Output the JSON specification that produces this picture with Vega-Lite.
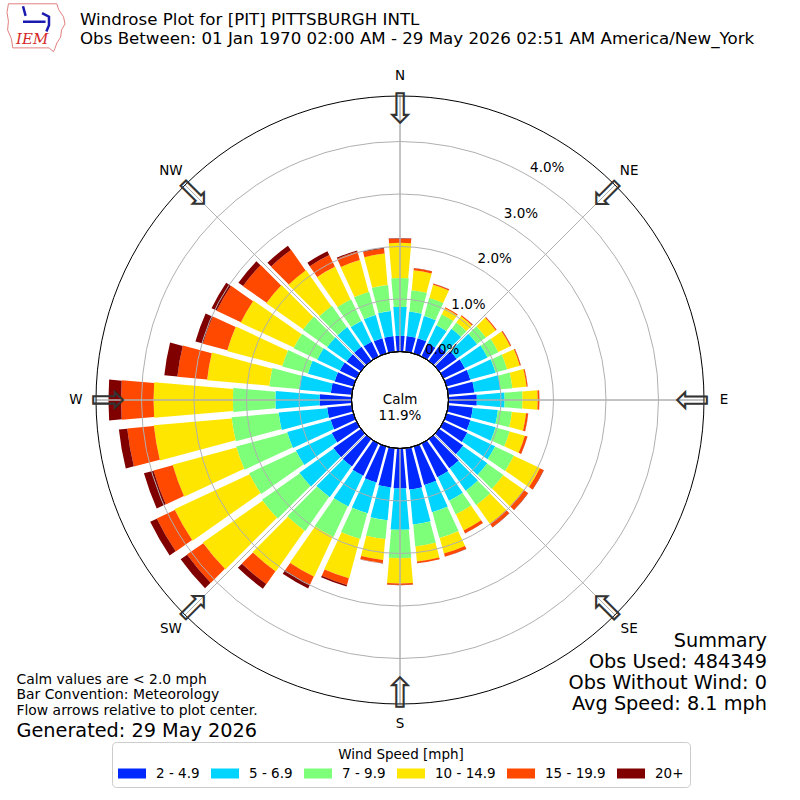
{
  "$schema": "https://vega.github.io/schema/vega-lite/v6.json",
  "width": 800,
  "height": 800,
  "padding": 0,
  "autosize": {"type": "none"},
  "background": "white",
  "config": {"view": {"stroke": null}, "font": "DejaVu Sans", "text": {"font": "DejaVu Sans", "color": "black"}},
  "datasets": {
    "rose": [
      {"dir":0,"speed":"2 - 4.9","pct":0.30},{"dir":0,"speed":"5 - 6.9","pct":0.55},{"dir":0,"speed":"7 - 9.9","pct":0.55},{"dir":0,"speed":"10 - 14.9","pct":0.67},{"dir":0,"speed":"15 - 19.9","pct":0.08},{"dir":0,"speed":"20+","pct":0.01},
      {"dir":10,"speed":"2 - 4.9","pct":0.30},{"dir":10,"speed":"5 - 6.9","pct":0.47},{"dir":10,"speed":"7 - 9.9","pct":0.41},{"dir":10,"speed":"10 - 14.9","pct":0.38},{"dir":10,"speed":"15 - 19.9","pct":0.04},{"dir":10,"speed":"20+","pct":0.005},
      {"dir":20,"speed":"2 - 4.9","pct":0.30},{"dir":20,"speed":"5 - 6.9","pct":0.44},{"dir":20,"speed":"7 - 9.9","pct":0.36},{"dir":20,"speed":"10 - 14.9","pct":0.26},{"dir":20,"speed":"15 - 19.9","pct":0.02},{"dir":20,"speed":"20+","pct":0.003},
      {"dir":30,"speed":"2 - 4.9","pct":0.28},{"dir":30,"speed":"5 - 6.9","pct":0.38},{"dir":30,"speed":"7 - 9.9","pct":0.23},{"dir":30,"speed":"10 - 14.9","pct":0.13},{"dir":30,"speed":"15 - 19.9","pct":0.02},{"dir":30,"speed":"20+","pct":0.003},
      {"dir":40,"speed":"2 - 4.9","pct":0.33},{"dir":40,"speed":"5 - 6.9","pct":0.42},{"dir":40,"speed":"7 - 9.9","pct":0.15},{"dir":40,"speed":"10 - 14.9","pct":0.15},{"dir":40,"speed":"15 - 19.9","pct":0.02},{"dir":40,"speed":"20+","pct":0.003},
      {"dir":50,"speed":"2 - 4.9","pct":0.41},{"dir":50,"speed":"5 - 6.9","pct":0.48},{"dir":50,"speed":"7 - 9.9","pct":0.21},{"dir":50,"speed":"10 - 14.9","pct":0.23},{"dir":50,"speed":"15 - 19.9","pct":0.02},{"dir":50,"speed":"20+","pct":0.003},
      {"dir":60,"speed":"2 - 4.9","pct":0.45},{"dir":60,"speed":"5 - 6.9","pct":0.48},{"dir":60,"speed":"7 - 9.9","pct":0.23},{"dir":60,"speed":"10 - 14.9","pct":0.25},{"dir":60,"speed":"15 - 19.9","pct":0.02},{"dir":60,"speed":"20+","pct":0.003},
      {"dir":70,"speed":"2 - 4.9","pct":0.47},{"dir":70,"speed":"5 - 6.9","pct":0.50},{"dir":70,"speed":"7 - 9.9","pct":0.23},{"dir":70,"speed":"10 - 14.9","pct":0.25},{"dir":70,"speed":"15 - 19.9","pct":0.02},{"dir":70,"speed":"20+","pct":0.003},
      {"dir":80,"speed":"2 - 4.9","pct":0.50},{"dir":80,"speed":"5 - 6.9","pct":0.50},{"dir":80,"speed":"7 - 9.9","pct":0.23},{"dir":80,"speed":"10 - 14.9","pct":0.27},{"dir":80,"speed":"15 - 19.9","pct":0.02},{"dir":80,"speed":"20+","pct":0.003},
      {"dir":90,"speed":"2 - 4.9","pct":0.54},{"dir":90,"speed":"5 - 6.9","pct":0.53},{"dir":90,"speed":"7 - 9.9","pct":0.34},{"dir":90,"speed":"10 - 14.9","pct":0.29},{"dir":90,"speed":"15 - 19.9","pct":0.03},{"dir":90,"speed":"20+","pct":0.003},
      {"dir":100,"speed":"2 - 4.9","pct":0.47},{"dir":100,"speed":"5 - 6.9","pct":0.48},{"dir":100,"speed":"7 - 9.9","pct":0.27},{"dir":100,"speed":"10 - 14.9","pct":0.27},{"dir":100,"speed":"15 - 19.9","pct":0.04},{"dir":100,"speed":"20+","pct":0.003},
      {"dir":110,"speed":"2 - 4.9","pct":0.47},{"dir":110,"speed":"5 - 6.9","pct":0.50},{"dir":110,"speed":"7 - 9.9","pct":0.28},{"dir":110,"speed":"10 - 14.9","pct":0.30},{"dir":110,"speed":"15 - 19.9","pct":0.05},{"dir":110,"speed":"20+","pct":0.003},
      {"dir":120,"speed":"2 - 4.9","pct":0.50},{"dir":120,"speed":"5 - 6.9","pct":0.59},{"dir":120,"speed":"7 - 9.9","pct":0.40},{"dir":120,"speed":"10 - 14.9","pct":0.55},{"dir":120,"speed":"15 - 19.9","pct":0.08},{"dir":120,"speed":"20+","pct":0.006},
      {"dir":130,"speed":"2 - 4.9","pct":0.56},{"dir":130,"speed":"5 - 6.9","pct":0.57},{"dir":130,"speed":"7 - 9.9","pct":0.38},{"dir":130,"speed":"10 - 14.9","pct":0.48},{"dir":130,"speed":"15 - 19.9","pct":0.10},{"dir":130,"speed":"20+","pct":0.006},
      {"dir":140,"speed":"2 - 4.9","pct":0.68},{"dir":140,"speed":"5 - 6.9","pct":0.53},{"dir":140,"speed":"7 - 9.9","pct":0.34},{"dir":140,"speed":"10 - 14.9","pct":0.44},{"dir":140,"speed":"15 - 19.9","pct":0.08},{"dir":140,"speed":"20+","pct":0.006},
      {"dir":150,"speed":"2 - 4.9","pct":0.71},{"dir":150,"speed":"5 - 6.9","pct":0.50},{"dir":150,"speed":"7 - 9.9","pct":0.29},{"dir":150,"speed":"10 - 14.9","pct":0.34},{"dir":150,"speed":"15 - 19.9","pct":0.06},{"dir":150,"speed":"20+","pct":0.004},
      {"dir":160,"speed":"2 - 4.9","pct":0.76},{"dir":160,"speed":"5 - 6.9","pct":0.54},{"dir":160,"speed":"7 - 9.9","pct":0.51},{"dir":160,"speed":"10 - 14.9","pct":0.31},{"dir":160,"speed":"15 - 19.9","pct":0.06},{"dir":160,"speed":"20+","pct":0.004},
      {"dir":170,"speed":"2 - 4.9","pct":0.79},{"dir":170,"speed":"5 - 6.9","pct":0.67},{"dir":170,"speed":"7 - 9.9","pct":0.42},{"dir":170,"speed":"10 - 14.9","pct":0.29},{"dir":170,"speed":"15 - 19.9","pct":0.03},{"dir":170,"speed":"20+","pct":0.004},
      {"dir":180,"speed":"2 - 4.9","pct":0.76},{"dir":180,"speed":"5 - 6.9","pct":0.79},{"dir":180,"speed":"7 - 9.9","pct":0.54},{"dir":180,"speed":"10 - 14.9","pct":0.48},{"dir":180,"speed":"15 - 19.9","pct":0.03},{"dir":180,"speed":"20+","pct":0.004},
      {"dir":190,"speed":"2 - 4.9","pct":0.75},{"dir":190,"speed":"5 - 6.9","pct":0.63},{"dir":190,"speed":"7 - 9.9","pct":0.36},{"dir":190,"speed":"10 - 14.9","pct":0.40},{"dir":190,"speed":"15 - 19.9","pct":0.06},{"dir":190,"speed":"20+","pct":0.006},
      {"dir":200,"speed":"2 - 4.9","pct":0.71},{"dir":200,"speed":"5 - 6.9","pct":0.61},{"dir":200,"speed":"7 - 9.9","pct":0.51},{"dir":200,"speed":"10 - 14.9","pct":0.78},{"dir":200,"speed":"15 - 19.9","pct":0.13},{"dir":200,"speed":"20+","pct":0.03},
      {"dir":210,"speed":"2 - 4.9","pct":0.68},{"dir":210,"speed":"5 - 6.9","pct":0.65},{"dir":210,"speed":"7 - 9.9","pct":0.65},{"dir":210,"speed":"10 - 14.9","pct":0.84},{"dir":210,"speed":"15 - 19.9","pct":0.17},{"dir":210,"speed":"20+","pct":0.08},
      {"dir":220,"speed":"2 - 4.9","pct":0.64},{"dir":220,"speed":"5 - 6.9","pct":0.72},{"dir":220,"speed":"7 - 9.9","pct":0.80},{"dir":220,"speed":"10 - 14.9","pct":0.95},{"dir":220,"speed":"15 - 19.9","pct":0.30},{"dir":220,"speed":"20+","pct":0.11},
      {"dir":230,"speed":"2 - 4.9","pct":0.64},{"dir":230,"speed":"5 - 6.9","pct":0.80},{"dir":230,"speed":"7 - 9.9","pct":0.88},{"dir":230,"speed":"10 - 14.9","pct":1.39},{"dir":230,"speed":"15 - 19.9","pct":0.38},{"dir":230,"speed":"20+","pct":0.15},
      {"dir":240,"speed":"2 - 4.9","pct":0.52},{"dir":240,"speed":"5 - 6.9","pct":0.76},{"dir":240,"speed":"7 - 9.9","pct":0.99},{"dir":240,"speed":"10 - 14.9","pct":1.58},{"dir":240,"speed":"15 - 19.9","pct":0.38},{"dir":240,"speed":"20+","pct":0.14},
      {"dir":250,"speed":"2 - 4.9","pct":0.45},{"dir":250,"speed":"5 - 6.9","pct":0.86},{"dir":250,"speed":"7 - 9.9","pct":1.01},{"dir":250,"speed":"10 - 14.9","pct":1.26},{"dir":250,"speed":"15 - 19.9","pct":0.38},{"dir":250,"speed":"20+","pct":0.19},
      {"dir":260,"speed":"2 - 4.9","pct":0.47},{"dir":260,"speed":"5 - 6.9","pct":0.93},{"dir":260,"speed":"7 - 9.9","pct":0.90},{"dir":260,"speed":"10 - 14.9","pct":1.49},{"dir":260,"speed":"15 - 19.9","pct":0.51},{"dir":260,"speed":"20+","pct":0.16},
      {"dir":270,"speed":"2 - 4.9","pct":0.61},{"dir":270,"speed":"5 - 6.9","pct":0.84},{"dir":270,"speed":"7 - 9.9","pct":0.81},{"dir":270,"speed":"10 - 14.9","pct":1.51},{"dir":270,"speed":"15 - 19.9","pct":0.62},{"dir":270,"speed":"20+","pct":0.24},
      {"dir":280,"speed":"2 - 4.9","pct":0.40},{"dir":280,"speed":"5 - 6.9","pct":0.61},{"dir":280,"speed":"7 - 9.9","pct":0.57},{"dir":280,"speed":"10 - 14.9","pct":1.19},{"dir":280,"speed":"15 - 19.9","pct":0.57},{"dir":280,"speed":"20+","pct":0.25},
      {"dir":290,"speed":"2 - 4.9","pct":0.37},{"dir":290,"speed":"5 - 6.9","pct":0.53},{"dir":290,"speed":"7 - 9.9","pct":0.51},{"dir":290,"speed":"10 - 14.9","pct":1.09},{"dir":290,"speed":"15 - 19.9","pct":0.48},{"dir":290,"speed":"20+","pct":0.15},
      {"dir":300,"speed":"2 - 4.9","pct":0.35},{"dir":300,"speed":"5 - 6.9","pct":0.48},{"dir":300,"speed":"7 - 9.9","pct":0.50},{"dir":300,"speed":"10 - 14.9","pct":1.12},{"dir":300,"speed":"15 - 19.9","pct":0.51},{"dir":300,"speed":"20+","pct":0.11},
      {"dir":310,"speed":"2 - 4.9","pct":0.33},{"dir":310,"speed":"5 - 6.9","pct":0.46},{"dir":310,"speed":"7 - 9.9","pct":0.57},{"dir":310,"speed":"10 - 14.9","pct":0.86},{"dir":310,"speed":"15 - 19.9","pct":0.55},{"dir":310,"speed":"20+","pct":0.11},
      {"dir":320,"speed":"2 - 4.9","pct":0.33},{"dir":320,"speed":"5 - 6.9","pct":0.46},{"dir":320,"speed":"7 - 9.9","pct":0.50},{"dir":320,"speed":"10 - 14.9","pct":0.84},{"dir":320,"speed":"15 - 19.9","pct":0.48},{"dir":320,"speed":"20+","pct":0.10},
      {"dir":330,"speed":"2 - 4.9","pct":0.31},{"dir":330,"speed":"5 - 6.9","pct":0.44},{"dir":330,"speed":"7 - 9.9","pct":0.46},{"dir":330,"speed":"10 - 14.9","pct":0.69},{"dir":330,"speed":"15 - 19.9","pct":0.25},{"dir":330,"speed":"20+","pct":0.08},
      {"dir":340,"speed":"2 - 4.9","pct":0.30},{"dir":340,"speed":"5 - 6.9","pct":0.46},{"dir":340,"speed":"7 - 9.9","pct":0.46},{"dir":340,"speed":"10 - 14.9","pct":0.63},{"dir":340,"speed":"15 - 19.9","pct":0.17},{"dir":340,"speed":"20+","pct":0.02},
      {"dir":350,"speed":"2 - 4.9","pct":0.30},{"dir":350,"speed":"5 - 6.9","pct":0.48},{"dir":350,"speed":"7 - 9.9","pct":0.50},{"dir":350,"speed":"10 - 14.9","pct":0.60},{"dir":350,"speed":"15 - 19.9","pct":0.10},{"dir":350,"speed":"20+","pct":0.01}
    ],
    "compass": [
      {"lab":"N","a":0},{"lab":"NE","a":45},{"lab":"E","a":90},{"lab":"SE","a":135},
      {"lab":"S","a":180},{"lab":"SW","a":225},{"lab":"W","a":270},{"lab":"NW","a":315}
    ],
    "rings": [
      {"ring":0,"label":"0.0%"},{"ring":1,"label":"1.0%"},{"ring":2,"label":"2.0%"},{"ring":3,"label":"3.0%"},{"ring":4,"label":"4.0%"}
    ]
  },
  "layer": [
    {
      "data": {"name": "rose"},
      "transform": [
        {"stack": "pct", "groupby": ["dir"], "as": ["r0", "r1"]},
        {"bin": {"step": 10, "extent": [-5, 355], "nice": false}, "field": "dir", "as": ["a0", "a1"]}
      ],
      "mark": {"type": "arc", "padAngle": 0.0247},
      "encoding": {
        "theta": {"field": "a0", "type": "quantitative", "stack": null, "scale": {"domain": [0, 360], "range": [0, 6.283185307]}},
        "theta2": {"field": "a1"},
        "radius": {"field": "r1", "type": "quantitative", "stack": null, "scale": {"type": "linear", "domain": [0, 4.8667], "range": [48.5, 304], "zero": false}},
        "radius2": {"field": "r0"},
        "color": {
          "field": "speed", "type": "nominal",
          "scale": {"domain": ["2 - 4.9", "5 - 6.9", "7 - 9.9", "10 - 14.9", "15 - 19.9", "20+"],
                    "range": ["#0028ff", "#00d4ff", "#7dff7a", "#ffe600", "#ff4800", "#800000"]},
          "legend": {
            "orient": "none", "legendX": 112, "legendY": 742, "direction": "horizontal",
            "title": "Wind Speed [mph]", "titleAnchor": "middle", "titleFontSize": 13.5, "titleFontWeight": "normal",
            "titleFont": "DejaVu Sans", "titleColor": "black", "titlePadding": 5,
            "labelFont": "DejaVu Sans", "labelFontSize": 13.5, "labelColor": "black", "labelOffset": 10,
            "symbolType": "M-1,-0.357H1V0.357H-1Z", "symbolSize": 784, "symbolStrokeWidth": 0, "symbolOpacity": 1,
            "clipHeight": 14,
            "columnPadding": 11, "padding": 6, "strokeColor": "#cccccc", "fillColor": "white", "cornerRadius": 4
          }
        }
      }
    },
    {
      "data": {"name": "rings"},
      "transform": [{"filter": "datum.ring > 0"}],
      "mark": {"type": "arc", "fillOpacity": 0, "fill": "white", "stroke": "#b0b0b0", "strokeWidth": 1},
      "encoding": {
        "theta": {"value": 0},
        "theta2": {"value": 6.2832},
        "radius": {"field": "ring", "type": "quantitative", "stack": null, "scale": {"type": "linear", "domain": [0, 4.8667], "range": [48.5, 304], "zero": false}}
      }
    },
    {
      "data": {"name": "compass"},
      "mark": {"type": "arc", "fillOpacity": 0, "fill": "white", "stroke": "#b0b0b0", "strokeWidth": 1},
      "encoding": {
        "theta": {"field": "a", "type": "quantitative", "stack": null, "scale": {"domain": [0, 360], "range": [0, 6.283185307]}},
        "theta2": {"field": "a"},
        "radius": {"datum": 4.8667, "type": "quantitative", "scale": {"type": "linear", "domain": [0, 4.8667], "range": [48.5, 304], "zero": false}},
        "radius2": {"datum": 0}
      }
    },
    {
      "data": {"values": [{"calm": 11.9}]},
      "mark": {"type": "arc", "fill": "white", "stroke": "black", "strokeWidth": 1},
      "encoding": {
        "theta": {"value": 0},
        "theta2": {"value": 6.2832},
        "radius": {"datum": 0, "type": "quantitative", "scale": {"type": "linear", "domain": [0, 4.8667], "range": [48.5, 304], "zero": false}}
      }
    },
    {
      "data": {"values": [{"calm": 11.9}]},
      "mark": {"type": "text", "text": ["Calm", "11.9%"], "fontSize": 13.5, "align": "center", "baseline": "middle", "lineHeight": 16},
      "encoding": {"theta": {"value": 0}, "radius": {"value": 0}}
    },
    {
      "data": {"values": [{"outer": 1}]},
      "mark": {"type": "arc", "fillOpacity": 0, "fill": "white", "stroke": "black", "strokeWidth": 1},
      "encoding": {
        "theta": {"value": 0},
        "theta2": {"value": 6.2832},
        "radius": {"datum": 4.8667, "type": "quantitative", "scale": {"type": "linear", "domain": [0, 4.8667], "range": [48.5, 304], "zero": false}}
      }
    },
    {
      "data": {"name": "rings"},
      "mark": {"type": "text", "fontSize": 13.5, "align": "center", "baseline": "middle", "dx": 18, "dy": -8},
      "encoding": {
        "theta": {"datum": 30, "type": "quantitative", "scale": {"domain": [0, 360], "range": [0, 6.283185307]}},
        "radius": {"field": "ring", "type": "quantitative", "stack": null, "scale": {"type": "linear", "domain": [0, 4.8667], "range": [48.5, 304], "zero": false}},
        "text": {"field": "label"}
      }
    },
    {
      "data": {"name": "compass"},
      "mark": {"type": "text", "fontSize": 13.5, "align": "center", "baseline": "middle"},
      "encoding": {
        "theta": {"field": "a", "type": "quantitative", "stack": null, "scale": {"domain": [0, 360], "range": [0, 6.283185307]}},
        "radius": {"datum": 5.248, "type": "quantitative", "scale": {"type": "linear", "domain": [0, 4.8667], "range": [48.5, 304], "zero": false}},
        "text": {"field": "lab"}
      }
    },
    {
      "data": {"name": "compass"},
      "mark": {"type": "text", "text": "⇩", "fontSize": 42, "align": "center", "baseline": "middle", "color": "#333333"},
      "encoding": {
        "theta": {"field": "a", "type": "quantitative", "stack": null, "scale": {"domain": [0, 360], "range": [0, 6.283185307]}},
        "radius": {"datum": 4.6, "type": "quantitative", "scale": {"type": "linear", "domain": [0, 4.8667], "range": [48.5, 304], "zero": false}},
        "angle": {"field": "a", "type": "quantitative", "scale": null}
      }
    },
    {
      "data": {"values": [{"t": 1}]},
      "mark": {"type": "text", "text": ["Windrose Plot for [PIT] PITTSBURGH INTL", "Obs Between: 01 Jan 1970 02:00 AM - 29 May 2026 02:51 AM America/New_York"], "x": 80, "y": 25, "align": "left", "baseline": "alphabetic", "fontSize": 16.67, "lineHeight": 18.5}
    },
    {
      "data": {"values": [{"t": 1}]},
      "mark": {"type": "point", "shape": "M-0.95,-0.8L0.72,-0.8L0.78,-0.6L0.95,-0.35L1,-0.1L0.88,0.1L0.85,0.35L0.72,0.55L0.65,0.75L0.6,0.85L0.45,0.72L-0.8,0.72L-0.85,0.4L-0.98,0.1L-0.95,-0.2L-1,-0.5Z", "x": 36, "y": 27, "size": 3364, "filled": false, "stroke": "#e08080", "strokeWidth": 1, "opacity": 1}
    },
    {
      "data": {"values": [{"t": 1}]},
      "mark": {"type": "point", "shape": "M-0.75,-0.85L-0.6,-0.3M-0.75,0.05L0.55,0.05M0.35,-0.45L0.75,-0.25L0.75,0.25L0.6,0.6", "x": 36, "y": 21, "size": 1200, "filled": false, "stroke": "#1a1ab0", "strokeWidth": 2.5, "opacity": 1}
    },
    {
      "data": {"values": [{"t": 1}]},
      "mark": {"type": "text", "text": "IEM", "x": 16, "y": 44, "align": "left", "baseline": "alphabetic", "font": "DejaVu Serif", "fontStyle": "italic", "fontSize": 15, "color": "#d42a2a"}
    },
    {
      "data": {"values": [{"t": 1}]},
      "mark": {"type": "text", "text": ["Calm values are < 2.0 mph", "Bar Convention: Meteorology", "Flow arrows relative to plot center."], "x": 16.5, "y": 683.5, "align": "left", "baseline": "alphabetic", "fontSize": 13.9, "lineHeight": 15.8}
    },
    {
      "data": {"values": [{"t": 1}]},
      "mark": {"type": "text", "text": "Generated: 29 May 2026", "x": 16.5, "y": 737, "align": "left", "baseline": "alphabetic", "fontSize": 19.3}
    },
    {
      "data": {"values": [{"t": 1}]},
      "mark": {"type": "text", "text": ["Summary", "Obs Used: 484349", "Obs Without Wind: 0", "Avg Speed: 8.1 mph"], "x": 767, "y": 646.5, "align": "right", "baseline": "alphabetic", "fontSize": 19.3, "lineHeight": 21.2}
    }
  ]
}
